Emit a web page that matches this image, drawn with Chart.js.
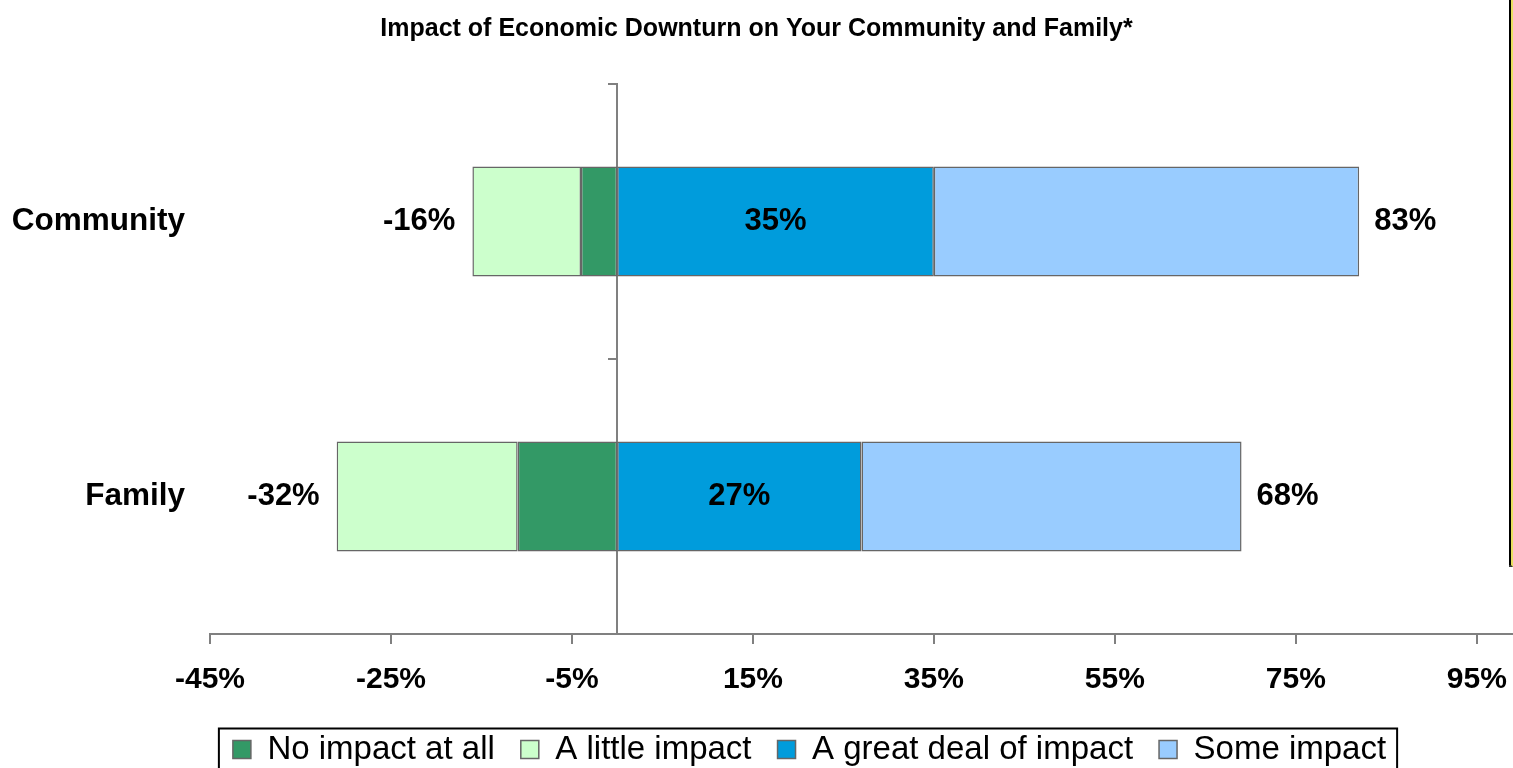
<!DOCTYPE html>
<html>
<head>
<meta charset="utf-8">
<title>Impact of Economic Downturn</title>
<script src="https://cdn.jsdelivr.net/npm/chart.js@4/dist/chart.umd.min.js"></script>
<style>
  html, body { margin: 0; padding: 0; background: #fff; overflow: hidden; }
  #wrap { position: relative; width: 1513px; height: 768px; }
  #edge {
    position: absolute; left: 1509px; top: 0; width: 2px; height: 565px;
    background: #000; border-right: 2px solid #e8e060; border-bottom: 2px solid #333;
  }
</style>
</head>
<body>
<div id="wrap">
  <canvas id="myChart" width="1513" height="768"></canvas>
  <div id="edge"></div>
</div>
<script>
const categories = ["Community", "Family"];
const noImpact = [-4, -11];
const littleImpact = [-12, -20];
const greatDeal = [35, 27];
const someImpact = [47, 42];
// totals as printed next to the bars
const negLabels = ["-16%", "-32%"];
const posLabels = ["83%", "68%"];
const tickValues = [-45, -25, -5, 15, 35, 55, 75, 95];

const FONT = "'Liberation Sans', Arial, sans-serif";

//labels at the ends / middle of the bars
const barLabels = {
  id: "barLabels",
  afterDatasetsDraw(chart) {
    const ctx = chart.ctx;
    ctx.save();
    ctx.font = "bold 31px " + FONT;
    ctx.fillStyle = "#000";
    ctx.textBaseline = "middle";
    categories.forEach((c, i) => {
      const little = chart.getDatasetMeta(1).data[i];
      const great = chart.getDatasetMeta(2).data[i];
      const some = chart.getDatasetMeta(3).data[i];
      ctx.textAlign = "right";
      ctx.fillText(negLabels[i], Math.min(little.x, little.base) - 17, little.y);
      ctx.textAlign = "center";
      ctx.fillText(greatDeal[i] + "%", (great.x + great.base) / 2, great.y);
      ctx.textAlign = "left";
      ctx.fillText(posLabels[i], Math.max(some.x, some.base) + 15, some.y);
    });
    ctx.restore();
  },
};

//move legend a bit right and put a frame round it
const legendFrame = {
  id: "legendFrame",
  afterUpdate(chart) {
    const lg = chart.legend;
    const dx = 53;
    lg.left += dx;
    lg.right += dx;
    lg.legendHitBoxes.forEach((h) => (h.left += dx));
  },
  afterDraw(chart) {
    const hb = chart.legend.legendHitBoxes;
    if (!hb.length) return;
    const left = Math.min(...hb.map((h) => h.left)) - 14;
    const right = Math.max(...hb.map((h) => h.left + h.width)) + 11;
    const top = hb[0].top + hb[0].height / 2 - 21;
    const ctx = chart.ctx;
    ctx.save();
    ctx.strokeStyle = "#000";
    ctx.lineWidth = 2;
    ctx.strokeRect(left, top, right - left, 100);
    ctx.restore();
  },
};

const border = "#666666";

const data = {
  labels: categories,
  datasets: [
    { label: "No impact at all", data: noImpact, backgroundColor: "#339966" },
    { label: "A little impact", data: littleImpact, backgroundColor: "#CCFFCC" },
    { label: "A great deal of impact", data: greatDeal, backgroundColor: "#009CDC" },
    { label: "Some impact", data: someImpact, backgroundColor: "#99CCFF" },
  ].map((d) => ({
    ...d,
    borderColor: border,
    borderWidth: 1.5,
    borderSkipped: false,
    barPercentage: 0.4,
    categoryPercentage: 1,
  })),
};

const myChart = new Chart(document.getElementById("myChart"), {
  type: "bar",
  data: data,
  options: {
    indexAxis: "y",
    responsive: false,
    animation: false,
    layout: { padding: { left: 0, right: 0, top: 0, bottom: -8 } },
    plugins: {
      title: {
        display: true,
        text: "Impact of Economic Downturn on Your Community and Family*",
        color: "#000",
        font: { family: FONT, size: 25, weight: "bold" },
        padding: { top: 14, bottom: 40 },
      },
      legend: {
        position: "bottom",
        labels: {
          color: "#000",
          font: { family: FONT, size: 33 },
          boxWidth: 18,
          boxHeight: 18,
          padding: 26,
        },
      },
      tooltip: { enabled: false },
    },
    scales: {
      x: {
        type: "linear",
        stacked: true,
        min: -45,
        max: 99,
        afterBuildTicks: (ax) => {
          ax.ticks = tickValues.map((v) => ({ value: v }));
        },
        afterFit: (s) => {
          s.paddingLeft = 0;
          s.paddingRight = 0;
          s.height = 73;
        },
        ticks: {
          color: "#000",
          font: { family: FONT, size: 30, weight: "bold" },
          padding: 18,
          maxRotation: 0,
          callback: (v) => v + "%",
        },
        grid: { drawOnChartArea: false, tickLength: 10, color: "#808080", lineWidth: 2 },
        border: { color: "#808080", width: 2 },
      },
      y: {
        stacked: true,
        grid: { display: false },
        border: { display: false },
        ticks: {
          color: "#000",
          font: { family: FONT, size: 31.5, weight: "bold" },
          padding: 17,
        },
        afterFit: (s) => {
          s.width = 210;
        },
      },
      yAxis0: {
        type: "category",
        labels: categories,
        position: { x: 0 },
        grid: { offset: true, drawOnChartArea: false, tickLength: 8, color: "#808080", lineWidth: 2 },
        border: { color: "#808080", width: 2 },
        ticks: { display: false },
      },
    },
  },
  plugins: [barLabels, legendFrame],
});
</script>
</body>
</html>
